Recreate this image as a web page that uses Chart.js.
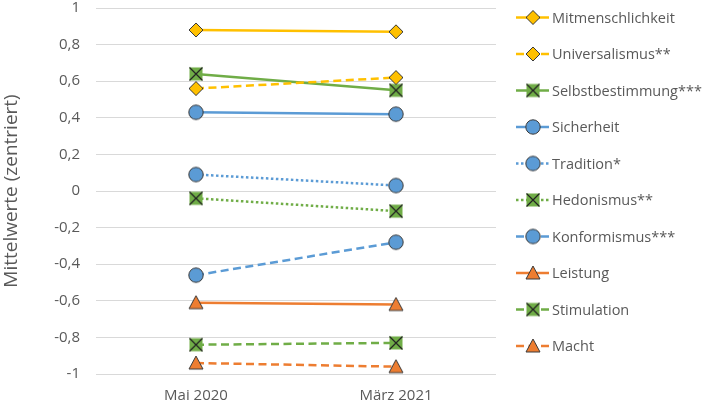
<!DOCTYPE html>
<html><head><meta charset="utf-8">
<script src="https://cdn.jsdelivr.net/npm/chart.js@4/dist/chart.umd.min.js"></script>
<style>html,body{margin:0;padding:0;background:#fff}#wrap{width:703px;height:402px}</style>
</head><body><div id="wrap"><canvas id="c" width="703" height="402"></canvas></div>
<script>
const categories = ["Mai 2020", "März 2021"];
const seriesNames = ["Mitmenschlichkeit","Universalismus**","Selbstbestimmung***","Sicherheit","Tradition*","Hedonismus**","Konformismus***","Leistung","Stimulation","Macht"];
const mitmenschlichkeit = [0.88, 0.87];
const universalismus = [0.56, 0.62];
const selbstbestimmung = [0.64, 0.55];
const sicherheit = [0.43, 0.42];
const tradition = [0.09, 0.03];
const hedonismus = [-0.04, -0.11];
const konformismus = [-0.46, -0.28];
const leistung = [-0.61, -0.62];
const stimulation = [-0.84, -0.83];
const macht = [-0.94, -0.96];
const yTicks = [1, 0.8, 0.6, 0.4, 0.2, 0, -0.2, -0.4, -0.6, -0.8, -1];

const YEL='#FFC000', GRN='#70AD47', BLU='#5B9BD5', ORA='#ED7D31', EDGE='#3a3a3a';
function mk(kind, fill){
  const s=18, c=document.createElement('canvas'); c.width=s; c.height=s;
  const g=c.getContext('2d'); g.fillStyle=fill; g.strokeStyle=EDGE; g.lineWidth=1;
  const m=s/2;
  g.beginPath();
  if(kind==='diamond'){g.moveTo(m,m-7);g.lineTo(m+7,m);g.lineTo(m,m+7);g.lineTo(m-7,m);g.closePath();g.fill();g.stroke();}
  else if(kind==='circle'){g.arc(m,m,7.2,0,Math.PI*2);g.fill();g.stroke();}
  else if(kind==='triangle'){g.moveTo(m,m-7);g.lineTo(m+7,m+6);g.lineTo(m-7,m+6);g.closePath();g.fill();g.stroke();}
  else if(kind==='xsq'){const h=6.5;g.rect(m-h,m-h,2*h,2*h);g.fill();g.beginPath();g.moveTo(m-h,m-h);g.lineTo(m+h,m+h);g.moveTo(m+h,m-h);g.lineTo(m-h,m+h);g.strokeStyle='#222';g.lineWidth=1.2;g.stroke();}
  return c;
}
const mDia=mk('diamond',YEL), mXsq=mk('xsq',GRN), mCir=mk('circle',BLU), mTri=mk('triangle',ORA);
const DASH=[8,4.5], DOT=[2.5,2.5];
const defs = [
  [mitmenschlichkeit, YEL, [], mDia],
  [universalismus, YEL, DASH, mDia],
  [selbstbestimmung, GRN, [], mXsq],
  [sicherheit, BLU, [], mCir],
  [tradition, BLU, DOT, mCir],
  [hedonismus, GRN, DOT, mXsq],
  [konformismus, BLU, DASH, mCir],
  [leistung, ORA, [], mTri],
  [stimulation, GRN, DASH, mXsq],
  [macht, ORA, DASH, mTri]
];
const datasets = defs.map((d,i)=>({
  label: seriesNames[i], data: d[0], borderColor: d[1], backgroundColor: d[1],
  borderDash: d[2], borderWidth: 2.5, pointStyle: d[3], pointRadius: 7, tension: 0
}));
const FONT = "'Open Sans', sans-serif";
const legendPlugin = {
  id:'sideLegend',
  afterDraw(chart){
    const ctx=chart.ctx; ctx.save();
    chart.data.datasets.forEach((ds,i)=>{
      const y=17.5+i*36.5;
      ctx.strokeStyle=ds.borderColor; ctx.lineWidth=2.5; ctx.setLineDash(ds.borderDash||[]);
      ctx.beginPath(); ctx.moveTo(516,y); ctx.lineTo(549,y); ctx.stroke();
      ctx.setLineDash([]);
      ctx.drawImage(ds.pointStyle, 533-9, y-9);
      ctx.fillStyle='#595959'; ctx.font="14.5px "+FONT; ctx.textBaseline='middle'; ctx.textAlign='left';
      ctx.fillText(ds.label, 552, y+1);
    });
    ctx.restore();
  }
};
new Chart(document.getElementById('c'), {
  type:'line',
  data:{labels:categories, datasets},
  options:{
    responsive:false, animation:false, devicePixelRatio:1,
    layout:{autoPadding:false, padding:{top:8,right:207,bottom:0,left:0}},
    plugins:{legend:{display:false}, tooltip:{enabled:false}},
    scales:{
      x:{offset:true, grid:{display:false, drawTicks:false}, border:{display:false},
         ticks:{color:'#595959', font:{family:FONT,size:15}, padding:13},
         afterFit(s){s.height=28;}},
      y:{min:-1,max:1, afterBuildTicks(s){s.ticks=yTicks.map(v=>({value:v}));},
         grid:{color:'#d9d9d9', lineWidth:1, drawTicks:false}, border:{display:false},
         ticks:{color:'#595959', font:{family:FONT,size:15}, padding:16,
           callback:v=>String(Math.round(v*10)/10).replace('.',',')},
         title:{display:true, text:'Mittelwerte (zentriert)', color:'#595959', font:{family:FONT,size:19}, padding:{top:0,bottom:8}},
         afterFit(s){s.width=96; s.paddingTop=0; s.paddingBottom=0;}}
    }
  },
  plugins:[legendPlugin]
});
</script></body></html>
